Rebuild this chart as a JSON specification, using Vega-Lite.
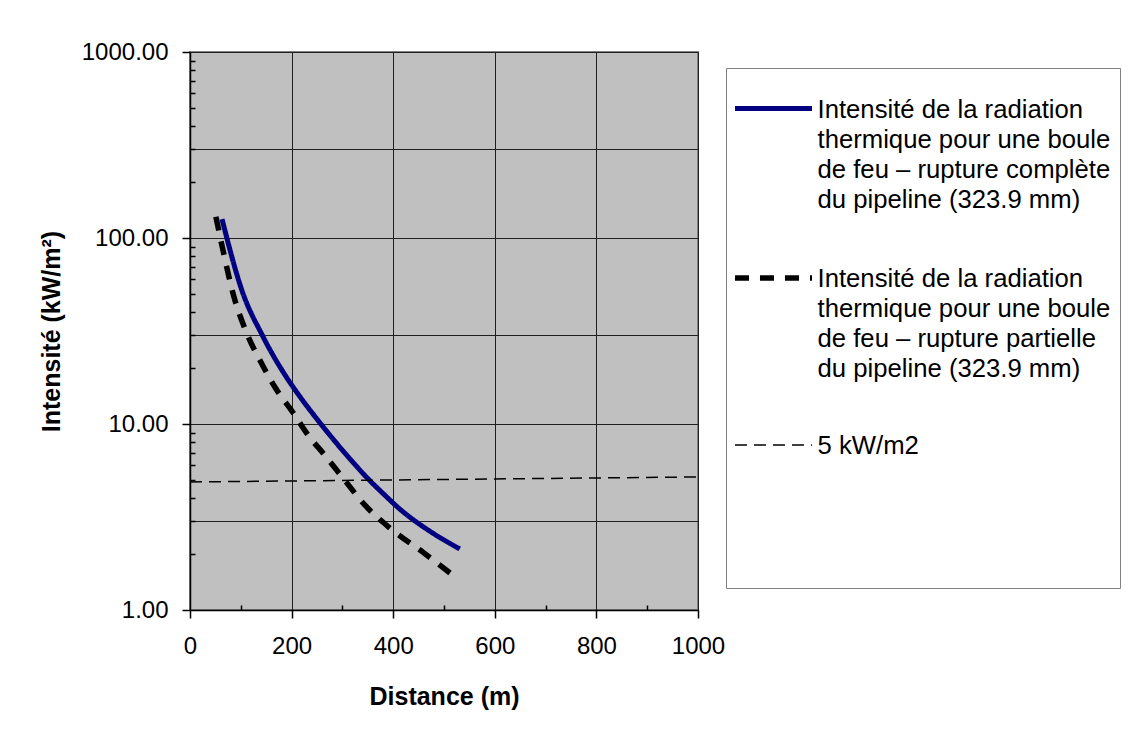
{
  "$schema": "https://vega.github.io/schema/vega-lite/v6.json",
  "autosize": {"type": "none"},
  "padding": {"left": 190, "top": 52, "right": 431, "bottom": 124},
  "width": 508,
  "height": 558,
  "background": "white",
  "config": {
    "font": "Liberation Sans",
    "view": {"fill": "#c0c0c0", "stroke": "#808080", "strokeWidth": 2},
    "style": {"guide-label": {"lineHeight": 30}},
    "axis": {
      "domainColor": "#000000",
      "domainWidth": 1.5,
      "tickColor": "#000000",
      "tickWidth": 1.5,
      "gridColor": "#202020",
      "gridWidth": 1,
      "labelFont": "Liberation Sans",
      "labelFontSize": 24,
      "labelColor": "#000000",
      "titleFont": "Liberation Sans",
      "titleFontSize": 25,
      "titleFontWeight": "bold",
      "titleColor": "#000000",
      "labelOverlap": false
    },
    "legend": {
      "labelFont": "Liberation Sans",
      "labelFontSize": 25.7,
      "labelColor": "#000000",
      "labelLimit": 0,
      "labelBaseline": "top",
      "symbolType": "M-2.14,0.61L2.14,0.61",
      "symbolSize": 1296,
      "symbolOffset": 17.5,
      "symbolOpacity": 1,
      "rowPadding": 33,
      "labelOffset": 23
    }
  },
  "data": {
    "values": [
      {"s": "A", "d": 63, "v": 126.5},
      {"s": "A", "d": 102, "v": 52.5},
      {"s": "A", "d": 144, "v": 29.4},
      {"s": "A", "d": 183, "v": 19.1},
      {"s": "A", "d": 217, "v": 13.96},
      {"s": "A", "d": 248, "v": 10.8},
      {"s": "A", "d": 281, "v": 8.34},
      {"s": "A", "d": 315, "v": 6.49},
      {"s": "A", "d": 348, "v": 5.16},
      {"s": "A", "d": 384, "v": 4.13},
      {"s": "A", "d": 413, "v": 3.49},
      {"s": "A", "d": 478, "v": 2.59},
      {"s": "A", "d": 531, "v": 2.13},
      {"s": "B", "d": 51, "v": 130},
      {"s": "B", "d": 67, "v": 81},
      {"s": "B", "d": 85, "v": 50},
      {"s": "B", "d": 110, "v": 31.6},
      {"s": "B", "d": 140, "v": 21.4},
      {"s": "B", "d": 167, "v": 15.8},
      {"s": "B", "d": 203, "v": 11.5},
      {"s": "B", "d": 230, "v": 8.9},
      {"s": "B", "d": 266, "v": 6.76},
      {"s": "B", "d": 301, "v": 5.13},
      {"s": "B", "d": 344, "v": 3.67},
      {"s": "B", "d": 394, "v": 2.75},
      {"s": "B", "d": 459, "v": 2.04},
      {"s": "B", "d": 512, "v": 1.58},
      {"s": "C", "d": 0, "v": 4.88},
      {"s": "C", "d": 1000, "v": 5.19}
    ]
  },
  "mark": {"type": "line", "strokeCap": "butt", "strokeJoin": "round", "interpolate": "monotone"},
  "encoding": {
    "x": {
      "field": "d",
      "type": "quantitative",
      "scale": {"domain": [0, 1000], "nice": false, "zero": false},
      "axis": {
        "title": "Distance (m)",
        "values": [0, 100, 200, 300, 400, 500, 600, 700, 800, 900, 1000],
        "labelExpr": "datum.value % 200 == 0 ? format(datum.value, 'd') : ''",
        "labelPadding": 16,
        "labelFlush": false,
        "titlePadding": 26,
        "tickSize": {"condition": {"test": "datum.value % 200 == 0", "value": 8}, "value": -5},
        "gridOpacity": {"condition": {"test": "datum.value % 200 == 0", "value": 1}, "value": 0}
      }
    },
    "y": {
      "field": "v",
      "type": "quantitative",
      "scale": {"type": "log", "domain": [1, 1000], "nice": false},
      "axis": {
        "title": "Intensité (kW/m²)",
        "values": [1, 2, 3, 4, 5, 6, 7, 8, 9, 10, 20, 30, 40, 50, 60, 70, 80, 90, 100, 200, 300, 400, 500, 600, 700, 800, 900, 1000],
        "labelExpr": "indexof([1, 10, 100, 1000], datum.value) >= 0 ? format(datum.value, '.2f') : ''",
        "labelPadding": 14,
        "titlePadding": 17,
        "tickSize": {"condition": {"test": "indexof([1, 10, 100, 1000], datum.value) >= 0", "value": 8}, "value": -5},
        "gridOpacity": {"condition": {"test": "indexof([1, 3, 10, 30, 100, 300, 1000], datum.value) >= 0", "value": 1}, "value": 0}
      }
    },
    "color": {
      "field": "s",
      "type": "nominal",
      "title": null,
      "scale": {"domain": ["A", "B", "C"], "range": ["#000080", "#000000", "#000000"]},
      "legend": {
        "orient": "none",
        "legendX": 536,
        "legendY": 16,
        "padding": 9,
        "strokeColor": "#808080",
        "fillColor": "#ffffff",
        "labelExpr": "datum.value == 'A' ? ['Intensité de la radiation', 'thermique pour une boule', 'de feu – rupture complète', 'du pipeline (323.9 mm)'] : datum.value == 'B' ? ['Intensité de la radiation', 'thermique pour une boule', 'de feu – rupture partielle', 'du pipeline (323.9 mm)'] : ['5 kW/m2', ' ', ' ', ' ', ' ']"
      }
    },
    "strokeDash": {
      "field": "s",
      "type": "nominal",
      "title": null,
      "scale": {"domain": ["A", "B", "C"], "range": [[1, 0], [14, 11], [12, 7]]}
    },
    "strokeWidth": {
      "field": "s",
      "type": "ordinal",
      "title": null,
      "scale": {"type": "ordinal", "domain": ["A", "B", "C"], "range": [5, 5.5, 1.5]}
    }
  }
}
